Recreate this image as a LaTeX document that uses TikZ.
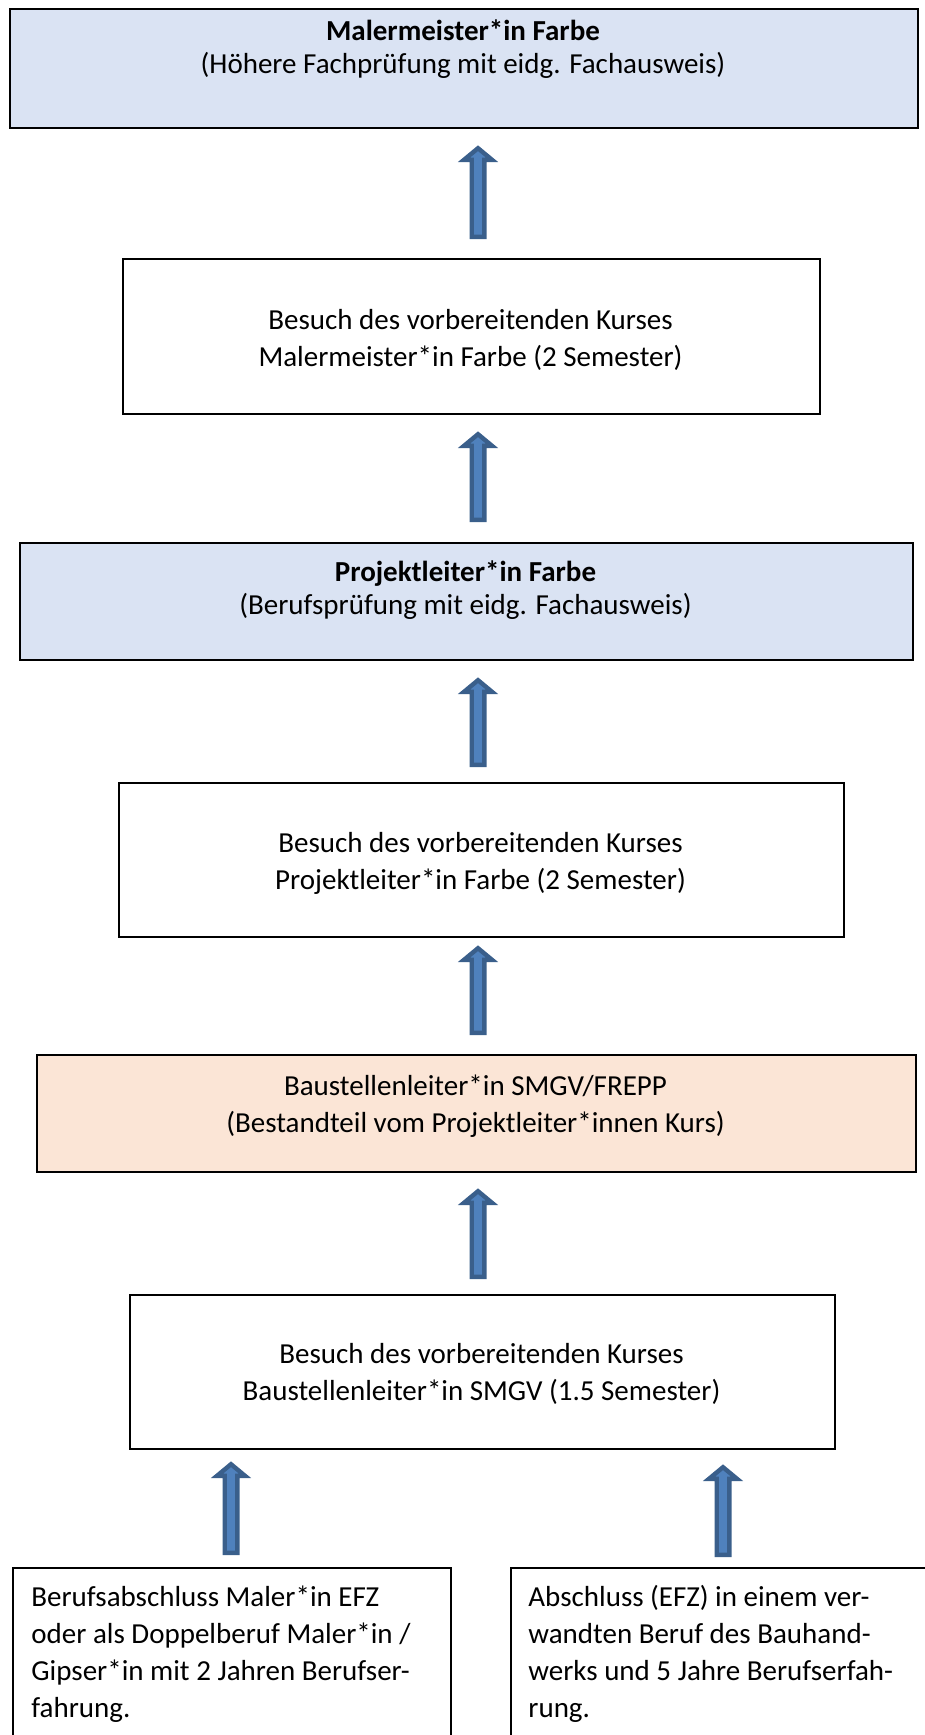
\documentclass[tikz,border=0pt]{standalone}
\usepackage{fontspec}
\setmainfont{Carlito}
\usepackage{xcolor}
\usepackage{tikz}
\usetikzlibrary{calc,positioning}

\definecolor{boxblue}{HTML}{DAE3F3}
\definecolor{boxpeach}{HTML}{FBE5D6}
\definecolor{arrowfill}{HTML}{4F81BD}
\definecolor{arrowline}{HTML}{3A5F8B}

\begin{document}
\begin{tikzpicture}[x=0.5pt,y=-0.5pt,
  box/.style={draw, line width=1pt, inner sep=0pt, anchor=north west},
  bluebox/.style={box, fill=boxblue},
  peachbox/.style={box, fill=boxpeach},
  txt/.style={align=center, inner sep=0pt, font=\fontsize{14.5}{18.5}\selectfont},
  titletxt/.style={txt, font=\fontsize{14.5}{16.5}\selectfont},
  lefttxt/.style={align=left, inner sep=0pt, anchor=north west, font=\fontsize{14.5}{18.5}\selectfont},
  uparrow/.style={draw=arrowline, fill=arrowfill, line width=2.2pt,
    to path={let \p1=(\tikztostart), \p2=(\tikztotarget) in
      (\x1-3.15pt,\y1+1.1pt) -- (\x1-3.15pt,\y2-7.4pt) -- (\x1-7pt,\y2-7.4pt) -- (\x1,\y2-1.6pt)
      -- (\x1+7pt,\y2-7.4pt) -- (\x1+3.15pt,\y2-7.4pt) -- (\x1+3.15pt,\y1+1.1pt) -- cycle}}]

\useasboundingbox (0,0) rectangle (925,1735);

% boxes, top to bottom
\node[bluebox, minimum width=454pt, minimum height=59.5pt] (b1) at (9,8) {};
\node[box, minimum width=348.5pt, minimum height=77.5pt] (b2) at (122,258) {};
\node[bluebox, minimum width=446.5pt, minimum height=58.5pt] (b3) at (19,542) {};
\node[box, minimum width=362.5pt, minimum height=77pt] (b4) at (118,782) {};
\node[peachbox, minimum width=439.5pt, minimum height=58.5pt] (b5) at (36,1054) {};
\node[box, minimum width=352.5pt, minimum height=77pt] (b6) at (129,1294) {};
\node[box, minimum width=219pt, minimum height=100pt] (b7a) at (12,1567) {}; % cut by page
\node[box, minimum width=225pt, minimum height=100pt] (b7b) at (510,1567) {};

% texts
\node[titletxt] (t1) at (463,49) {\textbf{Malermeister*in Farbe}\\(Höhere Fachprüfung mit eidg. Fachausweis)};
\node[txt] (t2) at (470.5,340) {Besuch des vorbereitenden Kurses\\Malermeister*in Farbe (2 Semester)};
\node[titletxt] (t3) at (465.5,590) {\textbf{Projektleiter*in Farbe}\\(Berufsprüfung mit eidg. Fachausweis)};
\node[txt] (t4) at (480.5,863) {Besuch des vorbereitenden Kurses\\Projektleiter*in Farbe (2 Semester)};
\node[txt] (t5) at (475.5,1106) {Baustellenleiter*in SMGV/FREPP\\(Bestandteil vom Projektleiter*innen Kurs)};
\node[txt] (t6) at (481.5,1374) {Besuch des vorbereitenden Kurses\\Baustellenleiter*in SMGV (1.5 Semester)};
\node[lefttxt] (t7a) at (31,1585) {Berufsabschluss Maler*in EFZ\\oder als Doppelberuf Maler*in /\\Gipser*in mit 2 Jahren Berufser-\\fahrung.};
\node[lefttxt] (t7b) at (528,1585) {Abschluss (EFZ) in einem ver-\\wandten Beruf des Bauhand-\\werks und 5 Jahre Berufserfah-\\rung.};

% block arrows
\coordinate (midcol) at (478,0);
\coordinate (leftcol) at (231,0);
\coordinate (rightcol) at (723,0);

\draw[uparrow] ($(b2.north -| midcol)+(0,-19)$) to ($(b1.south)+(0,16)$);
\draw[uparrow] ($(b3.north -| midcol)+(0,-20)$) to ($(b2.south)+(0,16)$);
\draw[uparrow] ($(b4.north -| midcol)+(0,-15)$) to ($(b3.south)+(0,16)$);
\draw[uparrow] ($(b5.north -| midcol)+(0,-19)$) to ($(b4.south)+(0,7)$);
\draw[uparrow] ($(b6.north -| midcol)+(0,-15)$) to ($(b5.south)+(0,15)$);
\draw[uparrow] ($(b7a.north -| leftcol)+(0,-12)$) to ($(b6.south)+(0,11)$);
\draw[uparrow] ($(b7b.north -| rightcol)+(0,-10)$) to ($(b6.south)+(0,14)$);

\end{tikzpicture}
\end{document}
